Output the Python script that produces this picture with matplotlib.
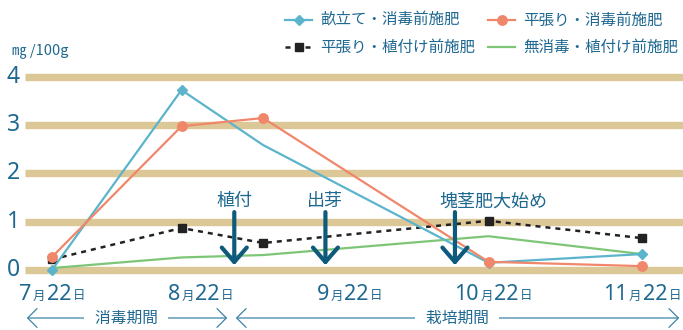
import matplotlib
matplotlib.use("Agg")
import matplotlib.pyplot as plt
import pandas as pd
from matplotlib.lines import Line2D
from matplotlib.offsetbox import TextArea, HPacker, AnnotationBbox
from matplotlib import transforms

plt.rcParams['font.family'] = ['Noto Sans CJK JP', 'DejaVu Sans']

# ---- data -------------------------------------------------------------
start = pd.Timestamp("2021-07-22")
sample_dates = ["2021-07-22", "2021-08-18", "2021-09-04", "2021-10-21", "2021-11-22"]

une_shodoku = [0.00, 3.73, 2.59, 0.15, 0.33]       # 畝立て・消毒前施肥
hiraba_shodoku = [0.27, 2.98, 3.15, 0.17, 0.08]    # 平張り・消毒前施肥
hiraba_uetsuke = [0.22, 0.87, 0.56, 1.02, 0.66]    # 平張り・植付け前施肥
mushodoku_uetsuke = [0.04, 0.26, 0.31, 0.70, 0.33] # 無消毒・植付け前施肥

series_labels = ["畝立て・消毒前施肥", "平張り・消毒前施肥",
                 "平張り・植付け前施肥", "無消毒・植付け前施肥"]

tick_dates = ["2021-07-22", "2021-08-22", "2021-09-22", "2021-10-22", "2021-11-22"]
tick_months = ["7", "8", "9", "10", "11"]
tick_day = "22"
y_ticks = [0, 1, 2, 3, 4]

events = ["植付", "出芽", "塊茎肥大始め"]
event_dates = ["2021-08-29", "2021-09-17", "2021-10-14"]

periods = ["消毒期間", "栽培期間"]


def to_days(dates):
    return [(pd.Timestamp(d) - start).days for d in dates]


x = to_days(sample_dates)

# ---- style ------------------------------------------------------------
TEXT = "#1f6890"
ARROW = "#0d5a7d"
BAND = "#dcc796"
BLUE = "#5bb4cb"
ORANGE = "#f0876b"
GREEN = "#7dc677"
BLACK = "#222222"

W, H = 683, 330
fig = plt.figure(figsize=(W / 100, H / 100), dpi=100)

ymin, ymax = -0.15, 4.15
px_per_unit = 48.25
y0_px = 270
ax_bottom = (H - (y0_px - ymin * px_per_unit)) / H
ax_top = (H - (y0_px - ymax * px_per_unit)) / H
ax_left = 25 / W
ax = fig.add_axes([ax_left, ax_bottom, 1 - ax_left, ax_top - ax_bottom])
ax.set_ylim(ymin, ymax)
px_per_day = 4.797
ax.set_xlim((25 - 52) / px_per_day, (683 - 52) / px_per_day)
ax.axis("off")

# horizontal bands
for yv in y_ticks:
    ax.axhline(yv, color=BAND, lw=5.3, zorder=0, solid_capstyle="butt")
    ax.text(-0.018, yv, str(yv), transform=ax.get_yaxis_transform(),
            ha="center", va="center", fontsize=16.5, color=TEXT,
            family=["Noto Sans", "DejaVu Sans"])

# series
ax.plot(x, mushodoku_uetsuke, color=GREEN, lw=1.6, zorder=2)
ax.plot(x, hiraba_uetsuke, color=BLACK, lw=1.8, ls=(0, (2, 2)),
        marker="s", ms=5.5, zorder=3)
ax.plot(x, une_shodoku, color=BLUE, lw=1.6, marker="D", ms=5.4,
        markevery=[0, 1, 3, 4], zorder=4)
ax.plot(x, hiraba_shodoku, color=ORANGE, lw=1.6, marker="o", ms=6.8, zorder=5)

# date tick labels: large digits with small 月 / 日
blend = transforms.blended_transform_factory(ax.transData, fig.transFigure)
big = dict(fontsize=15.5, color=TEXT, family=["Noto Sans", "DejaVu Sans"])
small = dict(fontsize=9, color=TEXT, family=["Noto Sans CJK JP"])
for d, m in zip(to_days(tick_dates), tick_months):
    parts = [TextArea(m, textprops=big), TextArea("月", textprops=small),
             TextArea(tick_day, textprops=big), TextArea("日", textprops=small)]
    pack = HPacker(children=parts, align="baseline", pad=0, sep=1)
    ab = AnnotationBbox(pack, (d, (H - 294) / H), xycoords=blend,
                        box_alignment=(0.5, 0.5), frameon=False, pad=0)
    ax.add_artist(ab)

# unit label
fig.text(12 / W, (H - 51) / H, "㎎ /100g", fontsize=10.5, color=TEXT,
         ha="left", va="center")

# event arrows
event_text_offset = [0, 0, -16]
event_ha = ["center", "center", "left"]
for name, d, off, ha in zip(events, to_days(event_dates), event_text_offset, event_ha):
    ax.annotate("", xy=(d, 0.1), xytext=(d, 1.2),
                arrowprops=dict(arrowstyle="->,head_length=0.52,head_width=0.45",
                                lw=3.0, color=ARROW, shrinkA=0, shrinkB=0,
                                mutation_scale=20), zorder=6)
    ax.annotate(name, xy=(d, 1.42), xytext=(off * 0.72, 0),
                textcoords="offset points", ha=ha, va="center",
                fontsize=13, color=TEXT, zorder=6)

# period arrows along the bottom
py = (H - 318) / H
for name, (a, b, c) in zip(periods, [(24, 230, 126), (233, 682, 457)]):
    fig.add_artist(matplotlib.patches.FancyArrowPatch(
        (a / W, py), (b / W, py), transform=fig.transFigure,
        arrowstyle="<->,head_length=0.45,head_width=0.45", mutation_scale=15,
        lw=0.9, color="#3d84a6"))
    fig.text(c / W, py, "  " + name + "  ", ha="center", va="center",
             fontsize=11.3, color=TEXT,
             bbox=dict(facecolor="white", edgecolor="none",
                       boxstyle="square,pad=0.2"))

# legend
handles = [
    Line2D([], [], color=BLUE, lw=1.6, marker="D", ms=5.4),
    Line2D([], [], color=BLACK, lw=1.8, ls=(0, (2, 2)), marker="s", ms=5.5),
    Line2D([], [], color=ORANGE, lw=1.6, marker="o", ms=6.8),
    Line2D([], [], color=GREEN, lw=1.6),
]
labels = [series_labels[0], series_labels[2], series_labels[1], series_labels[3]]
leg = fig.legend(handles, labels, loc="upper left",
                 bbox_to_anchor=(285 / W, (H - 12) / H), ncol=2, frameon=False,
                 fontsize=11.2, handlelength=1.75, handletextpad=0.5,
                 columnspacing=0.85, labelspacing=0.65, borderpad=0,
                 borderaxespad=0)
for t in leg.get_texts():
    t.set_color(TEXT)

fig.savefig("out.png", dpi=100)
